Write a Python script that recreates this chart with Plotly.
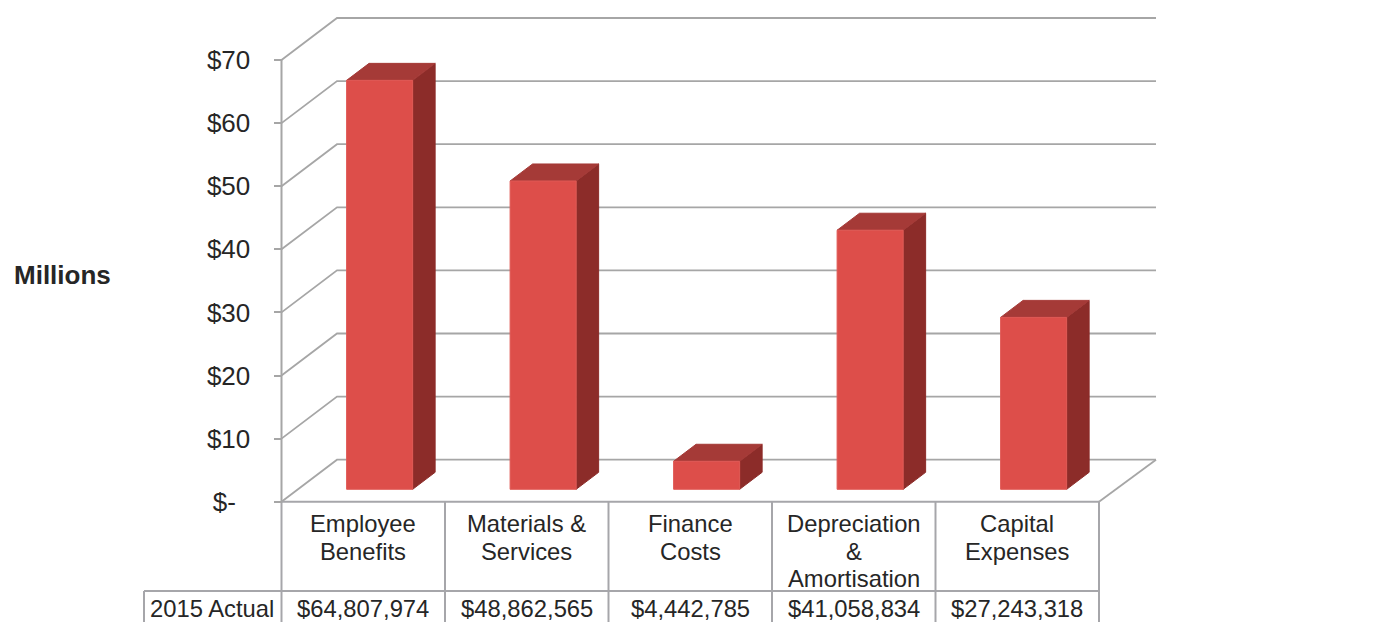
"""Excel style 3D column chart with a data table underneath."""
from __future__ import annotations

import plotly.graph_objects as go

categories = [
    ["Employee", "Benefits"],
    ["Materials &", "Services"],
    ["Finance", "Costs"],
    ["Depreciation", "&", "Amortisation"],
    ["Capital", "Expenses"],
]
actual_2015 = [64807974, 48862565, 4442785, 41058834, 27243318]
actual_labels = ["$64,807,974", "$48,862,565", "$4,442,785", "$41,058,834", "$27,243,318"]
tick_values = [0, 10, 20, 30, 40, 50, 60, 70]
tick_labels = ["$-\u00a0\u00a0", "$10", "$20", "$30", "$40", "$50", "$60", "$70"]
row_label = "2015 Actual"
axis_title = "Millions"

WIDTH, HEIGHT = 1394, 622

# pixel geometry of the projection
ORIGIN_X, ORIGIN_Y = 281.5, 501.7
CAT_PX = 163.5
UNIT_PX = 6.31
WALL_DX, WALL_DY = 55.5, 42.0
BACK_EXTRA = 1.5
BAR_WIDTH = 0.404
BAR_FRONT, BAR_BACK = 0.295, 0.70

GRID = "#a6a6a6"
TABLE = "#a6a6aa"
TEXT = "#262626"
FRONT, TOP, SIDE = "#dd4e4a", "#a53a37", "#8c2c29"
FONT = "Liberation Sans"


def px_x(px: float) -> float:
    return (px - ORIGIN_X) / CAT_PX


def px_y(px: float) -> float:
    return (ORIGIN_Y - px) / UNIT_PX


def project(x: float, y: float, depth: float) -> tuple[float, float]:
    """Shift a point on the front plane back by a fraction of the wall depth."""
    return x + depth * WALL_DX / CAT_PX, y + depth * WALL_DY / UNIT_PX


def add_line(fig: go.Figure, xs: list[float], ys: list[float], color: str = GRID, width: float = 1.8) -> None:
    fig.add_trace(go.Scatter(x=xs, y=ys, mode="lines", line=dict(color=color, width=width), hoverinfo="skip"))


def add_face(fig: go.Figure, points: list[tuple[float, float]], color: str, edge: str, name: str) -> None:
    xs = [p[0] for p in points] + [points[0][0]]
    ys = [p[1] for p in points] + [points[0][1]]
    fig.add_trace(
        go.Scatter(
            x=xs,
            y=ys,
            mode="lines",
            fill="toself",
            fillcolor=color,
            line=dict(color=edge, width=1),
            name=name,
            hoverinfo="skip",
        )
    )


fig = go.Figure()

n_cats = len(categories)
y_bottom = px_y(HEIGHT)
back_end = project(n_cats, 0, 1)[0] + BACK_EXTRA / CAT_PX

# walls and floor
for value in tick_values:
    back_left = project(0, value, 1)
    add_line(fig, [0, back_left[0], back_end], [value, back_left[1], back_left[1]])
add_line(fig, [n_cats, back_end], [0, project(0, 0, 1)[1]])
add_line(fig, [0, 0], [0, tick_values[-1]], width=2)

# columns
for i, amount in enumerate(actual_2015):
    value = amount / 1e6
    left = i + 0.5 - BAR_WIDTH / 2
    right = i + 0.5 + BAR_WIDTH / 2
    fbl = project(left, 0, BAR_FRONT)
    fbr = project(right, 0, BAR_FRONT)
    ftl = project(left, value, BAR_FRONT)
    ftr = project(right, value, BAR_FRONT)
    bbr = project(right, 0, BAR_BACK)
    btl = project(left, value, BAR_BACK)
    btr = project(right, value, BAR_BACK)
    label = " ".join(categories[i])
    add_face(fig, [fbr, bbr, btr, ftr], SIDE, SIDE, label)
    add_face(fig, [ftl, ftr, btr, btl], TOP, TOP, label)
    add_face(fig, [fbl, fbr, ftr, ftl], FRONT, "#e05a56", label)

# data table
row_y = px_y(591)
for i in range(n_cats + 1):
    add_line(fig, [i, i], [0, y_bottom], color=TABLE, width=2)
add_line(fig, [0, n_cats], [0, 0], color=TABLE, width=2)
table_left = px_x(144)
add_line(fig, [table_left, n_cats], [row_y, row_y], color=TABLE, width=2)
add_line(fig, [table_left, table_left], [row_y, y_bottom], color=TABLE, width=2)

annotations = []


def add_text(x: float, y: float, text: str, size: float = 23.8, bold: bool = False) -> None:
    annotations.append(
        dict(
            x=x,
            y=y,
            text=f"<b>{text}</b>" if bold else text,
            showarrow=False,
            xanchor="center",
            yanchor="middle",
            font=dict(family=FONT, size=size, color=TEXT),
        )
    )


LINE_TOPS = [523, 551, 578]
for i, lines in enumerate(categories):
    for line, line_y in zip(lines, LINE_TOPS):
        add_text(i + 0.5, px_y(line_y), line)
for i, label in enumerate(actual_labels):
    add_text(i + 0.5, px_y(608), label)
add_text(px_x(212), px_y(608), row_label)
add_text(px_x(62.5), px_y(275), axis_title, size=26, bold=True)

fig.update_layout(
    width=WIDTH,
    height=HEIGHT,
    margin=dict(l=0, r=0, t=0, b=0),
    paper_bgcolor="white",
    plot_bgcolor="white",
    showlegend=False,
    annotations=annotations,
    font=dict(family=FONT, color=TEXT),
    xaxis=dict(
        range=[px_x(0), px_x(WIDTH)],
        visible=False,
        fixedrange=True,
    ),
    yaxis=dict(
        range=[y_bottom, px_y(0)],
        anchor="free",
        position=ORIGIN_X / WIDTH,
        side="left",
        tickmode="array",
        tickvals=tick_values,
        ticktext=tick_labels,
        ticks="outside",
        ticklen=8,
        tickwidth=2,
        tickcolor=GRID,
        ticklabelstandoff=18,
        tickfont=dict(family=FONT, size=26, color=TEXT),
        showgrid=False,
        zeroline=False,
        showline=False,
        fixedrange=True,
    ),
)

# the page's default body margin would push the chart 8px off
fig.write_html(
    "out.html",
    config=dict(displayModeBar=False),
    post_script="document.body.style.margin = '0'; document.body.style.overflow = 'hidden';",
)
